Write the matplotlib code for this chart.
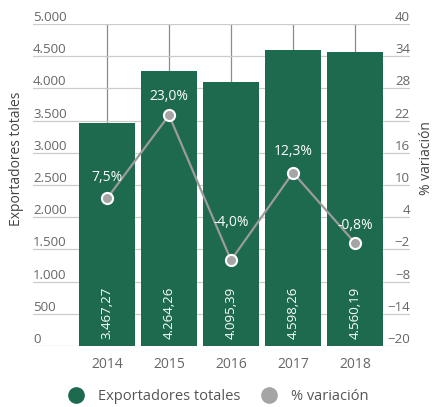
import numpy as np
import matplotlib
matplotlib.use('Agg')
from matplotlib import pyplot as plt
from matplotlib.lines import Line2D

years = ['2014', '2015', '2016', '2017', '2018']
exportadores = [3467.27, 4264.26, 4095.39, 4598.26, 4560.19]
variacion = [7.5, 23.0, -4.0, 12.3, -0.8]

left_ticks = np.arange(0, 5001, 500)
right_ticks = np.arange(-20, 41, 6)


def es_num(v, dec):
    s = f'{v:,.{dec}f}'
    return s.replace(',', 'X').replace('.', ',').replace('X', '.')


plt.rcParams['font.family'] = ['Open Sans', 'DejaVu Sans']
green = '#1d6a4e'
gray = '#9b9b9b'
txt = '#666666'

fig = plt.figure(figsize=(4.35, 4.07), dpi=100)
ax = fig.add_axes([33 / 435, 61 / 407, 377 / 435, 322 / 407])
ax2 = ax.twinx()

x = np.arange(len(years))
ax.bar(x, exportadores, width=0.9, color=green, zorder=3)
ax.set_xlim(-1.194, 4.887)
ax.set_ylim(0, 5000)
ax.set_yticks(left_ticks)
ax.set_yticklabels([es_num(v, 0) if v else '0' for v in left_ticks])
ax.set_xticks(x)
ax.set_xticklabels(years)
ax.grid(axis='y', color='#cccccc', lw=0.9, zorder=0)
ax.grid(axis='x', color='#8c8c8c', lw=0.9, zorder=0)
for s in ax.spines.values():
    s.set_visible(False)
for s in ax2.spines.values():
    s.set_visible(False)
ax.tick_params(axis='y', length=0, pad=0, labelsize=9.5, labelcolor=txt)
ax.tick_params(axis='x', length=0, pad=8, labelsize=10, labelcolor=txt)
for lab in ax.get_yticklabels():
    lab.set_ha('left')
    lab.set_va('bottom')

for xi, v in zip(x, exportadores):
    ax.annotate(es_num(v, 2), (xi, 0), xytext=(0, 5), textcoords='offset points',
                rotation=90, ha='center', va='bottom', color='white', fontsize=9.5,
                zorder=5)

ax2.set_ylim(-20, 40)
ax2.set_yticks(right_ticks)
ax2.tick_params(axis='y', length=0, pad=0, labelsize=9.5, labelcolor=txt)
for lab in ax2.get_yticklabels():
    lab.set_ha('right')
    lab.set_va('bottom')
ax2.plot(x, variacion, color=gray, lw=1.6, marker='o', ms=8, mfc='#a5a5a5',
         mec='white', mew=1.5, zorder=4)
label_offsets = [10, 8, 22, 10, 7]
for xi, v, off in zip(x, variacion, label_offsets):
    ax2.annotate(es_num(v, 1) + '%', (xi, v), xytext=(0, off), textcoords='offset points',
                 ha='center', va='bottom', color='white', fontsize=10, zorder=6)

ax.set_ylabel('Exportadores totales', color='#444444', fontsize=10)
ax.yaxis.set_label_coords(-0.025, 0.58)
ax2.set_ylabel('% variación', color='#444444', fontsize=10)
ax2.yaxis.set_label_coords(1.024, 0.585)

handles = [Line2D([], [], ls='none', marker='o', ms=11, mfc=green, mec=green),
           Line2D([], [], ls='none', marker='o', ms=11, mfc='#a5a5a5', mec='#a5a5a5')]
fig.legend(handles, ['Exportadores totales', '% variación'], loc='center',
           bbox_to_anchor=(0.494, 0.025), ncol=2, frameon=False, fontsize=10.5,
           handletextpad=0.5, columnspacing=1.0, labelcolor='#555555')

fig.savefig('out.png', dpi=100)
